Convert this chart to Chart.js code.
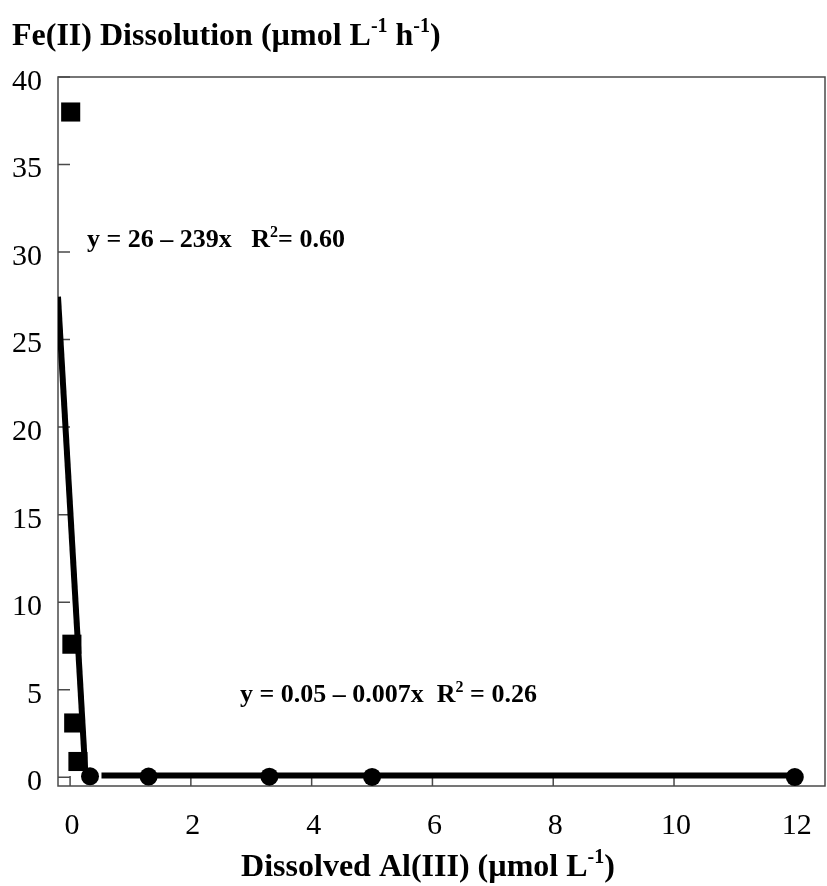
<!DOCTYPE html>
<html>
<head>
<meta charset="utf-8">
<script src="https://cdn.jsdelivr.net/npm/chart.js@4.4.1/dist/chart.umd.min.js"></script>
<style>
  html, body { margin: 0; padding: 0; background: #fff; overflow: hidden; }
  canvas { display: block; }
</style>
</head>
<body>
<canvas id="myChart" width="827" height="886"></canvas>
<script>
var serif = "'Liberation Serif', 'Times New Roman', serif";

// measured points: squares = low Al runs, circles = high Al runs
var squareX = [0.01, 0.03, 0.06, 0.13];
var squareY = [38.0, 7.6, 3.1, 0.9];
var circleX = [0.33, 1.3, 3.3, 5.0, 12.0];
var circleY = [0.05, 0.04, 0.03, 0.02, 0.01];

// regression lines (end points)
var fitLowX = [-0.2, 0.25];
var fitLowY = [27.45, 0.4];
var fitHighX = [0.52, 12.0];
var fitHighY = [0.1, 0.1];

var xTicks = [0, 2, 4, 6, 8, 10, 12];
var yTicks = [0, 5, 10, 15, 20, 25, 30, 35, 40];

function toPoints(xs, ys) {
	var pts = [];
	for (var i = 0; i < xs.length; i++) {
		pts.push({ x: xs[i], y: ys[i] });
	}
	return pts;
}

// draws text runs, some of them as superscripts
function measureRich(ctx, parts, size) {
	var w = 0;
	for (var p of parts) {
		ctx.font = 'bold ' + (p.sup ? Math.round(size * 0.62) : size) + 'px ' + serif;
		w += ctx.measureText(p.t).width;
	}
	return w;
}

function drawRich(ctx, parts, x, y, size) {
	ctx.fillStyle = '#000';
	ctx.textBaseline = 'alphabetic';
	ctx.textAlign = 'left';
	for (var p of parts) {
		var s = p.sup ? Math.round(size * 0.62) : size;
		ctx.font = 'bold ' + s + 'px ' + serif;
		ctx.fillText(p.t, x, p.sup ? y - size * 0.4 : y);
		x += ctx.measureText(p.t).width;
	}
}

var yTitle = [{ t: 'Fe(II) Dissolution (µmol L' }, { t: '-1', sup: true }, { t: ' h' }, { t: '-1', sup: true }, { t: ')' }];
var xTitle = [{ t: 'Dissolved Al(III) (µmol L' }, { t: '-1', sup: true }, { t: ')' }];
var eqLow = [{ t: 'y = 26 – 239x   R' }, { t: '2', sup: true }, { t: '= 0.60' }];
var eqHigh = [{ t: 'y = 0.05 – 0.007x  R' }, { t: '2', sup: true }, { t: ' = 0.26' }];

var framePlugin = {
	id: 'frame',
	beforeDatasetsDraw: function(chart) {
		var ctx = chart.ctx;
		var a = chart.chartArea;
		var xs = chart.scales.x, ys = chart.scales.y;
		ctx.save();
		ctx.strokeStyle = '#4a4a4a';
		ctx.lineWidth = 1.5;
		ctx.strokeRect(a.left, a.top, a.right - a.left, a.bottom - a.top);
		ctx.beginPath();
		for (var v of xTicks) {
			var px = xs.getPixelForValue(v);
			ctx.moveTo(px, a.bottom);
			ctx.lineTo(px, a.bottom - 10);
		}
		for (var v of yTicks) {
			var py = ys.getPixelForValue(v);
			ctx.moveTo(a.left, py);
			ctx.lineTo(a.left + 12, py);
		}
		ctx.stroke();
		ctx.restore();
	},
	afterDraw: function(chart) {
		var ctx = chart.ctx;
		ctx.save();
		drawRich(ctx, yTitle, 12, 45, 32);
		var w = measureRich(ctx, xTitle, 32);
		drawRich(ctx, xTitle, 428 - w / 2, 876, 32);
		drawRich(ctx, eqLow, 87, 247, 26);
		drawRich(ctx, eqHigh, 240, 702, 26);
		ctx.restore();
	}
};

var canvas = document.getElementById('myChart');

var chart = new Chart(canvas, {
	type: 'scatter',
	data: {
		datasets: [
			{
				data: toPoints(fitLowX, fitLowY),
				showLine: true,
				borderColor: '#000',
				borderWidth: 6,
				pointRadius: 0
			},
			{
				data: toPoints(fitHighX, fitHighY),
				showLine: true,
				borderColor: '#000',
				borderWidth: 6,
				pointRadius: 0
			},
			{
				data: toPoints(squareX, squareY),
				pointStyle: 'rect',
				pointRadius: 13.5,
				backgroundColor: '#000',
				borderColor: '#000',
				borderWidth: 0,
				clip: false
			},
			{
				data: toPoints(circleX, circleY),
				pointStyle: 'circle',
				pointRadius: 9,
				backgroundColor: '#000',
				borderColor: '#000',
				borderWidth: 0,
				clip: false
			}
		]
	},
	options: {
		responsive: false,
		animation: false,
		events: [],
		layout: {
			autoPadding: false,
			padding: { top: 77, right: 2, left: 0, bottom: 0 }
		},
		plugins: {
			legend: { display: false },
			tooltip: { enabled: false }
		},
		scales: {
			x: {
				type: 'linear',
				min: -0.2,
				max: 12.5,
				grid: { display: false, drawTicks: false },
				border: { display: false },
				ticks: {
					color: '#000',
					font: { family: serif, size: 30 },
					padding: 22,
					labelOffset: 2
				},
				afterBuildTicks: function(scale) {
					scale.ticks = xTicks.map(function(v) { return { value: v }; });
				},
				afterFit: function(scale) {
					scale.height = 100;
					scale.paddingLeft = 0;
					scale.paddingRight = 0;
				}
			},
			y: {
				type: 'linear',
				min: -0.5,
				max: 40,
				grid: { display: false, drawTicks: false },
				border: { display: false },
				ticks: {
					color: '#000',
					font: { family: serif, size: 30 },
					padding: 16,
					labelOffset: 5
				},
				afterBuildTicks: function(scale) {
					scale.ticks = yTicks.map(function(v) { return { value: v }; });
				},
				afterFit: function(scale) {
					scale.width = 58;
					scale.paddingTop = 0;
					scale.paddingBottom = 0;
				}
			}
		}
	},
	plugins: [framePlugin]
});
</script>
</body>
</html>
